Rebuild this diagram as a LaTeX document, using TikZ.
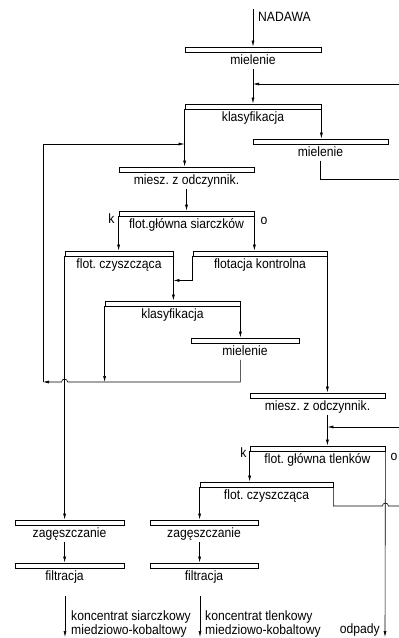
\documentclass[tikz,border=0pt]{standalone}
\usepackage{fontspec}
\setmainfont{Liberation Sans}[FakeStretch=0.9]
\usetikzlibrary{arrows.meta,positioning,calc}

\begin{document}
\begin{tikzpicture}[
    x=1pt, y=-1pt,
    every node/.style={font=\fontsize{13.5}{12.5}\selectfont},
    proc/.style={draw, line width=0.8pt, inner sep=0pt, minimum height=5pt, minimum width=#1},
    lbl/.style={inner sep=1pt, text height=10pt, text depth=3pt},
    side/.style={inner sep=0pt},
    flow/.style={-{Latex[length=6pt,width=3pt]}, line width=0.6pt},
    pipe/.style={line width=0.6pt}
]
\useasboundingbox (0,0) rectangle (399,638);

% units: bar + name below
\node[proc=136pt] (miel1) at (253,49.5) {};
\node[lbl, below=1pt of miel1] (miel1t) {mielenie};
\node[proc=136pt] (kl1) at (253,106.5) {};
\node[lbl, below=1pt of kl1] (kl1t) {klasyfikacja};
\node[proc=135pt] (miel2) at (320.5,141.5) {};
\node[lbl, below=1pt of miel2] (miel2t) {mielenie};
\node[proc=135pt] (miesz1) at (186.5,169.5) {};
\node[lbl, below=1pt of miesz1] (miesz1t) {miesz.\ z odczynnik.};
\node[proc=135pt] (flg1) at (186.5,213.5) {};
\node[lbl, below=1pt of flg1] (flg1t) {flot.główna siarczków};
\node[proc=108pt] (flc1) at (119,253.5) {};
\node[lbl, below=1pt of flc1] (flc1t) {flot.\ czyszcząca};
\node[proc=134pt] (flk) at (260,253.5) {};
\node[lbl, below=1pt of flk] (flkt) {flotacja kontrolna};
\node[proc=135pt] (kl2) at (172.5,303.5) {};
\node[lbl, below=1pt of kl2] (kl2t) {klasyfikacja};
\node[proc=108pt] (miel3) at (245,340.5) {};
\node[lbl, below=1pt of miel3] (miel3t) {mielenie};
\node[proc=135pt] (miesz2) at (317.5,395.5) {};
\node[lbl, below=1pt of miesz2] (miesz2t) {miesz.\ z odczynnik.};
\node[proc=135pt] (flg2) at (317.5,448.5) {};
\node[lbl, below=1pt of flg2] (flg2t) {flot.\ główna tlenków};
\node[proc=133pt] (flc2) at (266.5,484.5) {};
\node[lbl, below=1pt of flc2] (flc2t) {flot.\ czyszcząca};
\node[proc=109pt] (zag1) at (69.5,522.5) {};
\node[lbl, below=1pt of zag1] (zag1t) {zagęszczanie};
\node[proc=108pt] (zag2) at (204,522.5) {};
\node[lbl, below=1pt of zag2] (zag2t) {zagęszczanie};
\node[proc=109pt] (fil1) at (69.5,565.5) {};
\node[lbl, below=1pt of fil1, xshift=-5pt] (fil1t) {filtracja};
\node[proc=108pt] (fil2) at (204,565.5) {};
\node[lbl, below=1pt of fil2] (fil2t) {filtracja};

% k / o outlets
\node[side, anchor=base east] (k1) at ($(flg1.south west)+(-4,7)$) {k};
\node[side, anchor=base west] (o1) at ($(flg1.south east)+(6,8)$) {o};
\node[side, anchor=base east] (k2) at ($(flg2.south west)+(-3,6)$) {k};
\node[side, anchor=base west] (o2) at ($(flg2.south east)+(5,9)$) {o};

% free ends
\coordinate (feed) at (253,9);
\coordinate (rec1in) at (399,84);
\coordinate (rec1out) at (399,179);
\coordinate (rec2in) at (399,427);
\coordinate (rec2out) at (399,506);
\coordinate (loopL) at (43,382);
\coordinate (loopT) at (43,144);
\coordinate (flkbend) at ($(flk.south west)+(0,24)$);
\coordinate (kon1) at (65,596);
\coordinate (kon2) at (200,596);
\coordinate (out1) at (65,637);
\coordinate (out2) at (200,637);
\coordinate (out3) at (385,637);

\node[side, anchor=base west] (nadawa) at (258,21) {NADAWA};
\draw[flow] (feed) -- (miel1.north);
\draw[flow] (miel1t.south) -- (kl1.north);
\draw[flow] (rec1in) -- (rec1in -| miel1.south);

% first circuit
\draw[flow] (kl1.south east) -- (kl1.south east |- miel2.north);
\draw[pipe] (miel2t.south) |- (rec1out);
\draw[flow] (kl1.south west) -- (kl1.south west |- miesz1.north);
\draw[flow] (miesz1t.south) -- (flg1.north);
\draw[flow] (flg1.south west) -- (flg1.south west |- flc1.north);
\draw[flow] (flg1.south east) -- (flg1.south east |- flk.north);
\draw[flow] (flk.south west) -- (flkbend) -- (flkbend -| flc1.south east);
\draw[flow] (flc1.south east) -- (flc1.south east |- kl2.north);
\draw[flow] (kl2.south east) -- (kl2.south east |- miel3.north);
\draw[flow] (kl2.south west) -- (kl2.south west |- loopL);
\draw[flow] (miel3t.south -| kl2.south east) -- (kl2.south east |- loopL)
    -- ([xshift=3pt]flc1.south west |- loopL) arc[start angle=0, end angle=180, radius=3pt] -- (loopL);
\draw[flow] (loopL) -- (loopT) -- (loopT -| kl1.south west);

% second circuit
\draw[flow] (flk.south east) -- (flk.south east |- miesz2.north);
\draw[flow] (miesz2t.south -| flk.south east) -- (flk.south east |- flg2.north);
\draw[flow] (rec2in) -- (rec2in -| flk.south east);
\draw[flow] (flg2.south west) -- (flg2.south west |- flc2.north);
\draw[pipe] (flc2.south east) |- ([xshift=-3pt]flg2.south east |- rec2out)
    arc[start angle=180, end angle=0, radius=3pt] -- (rec2out);
\draw[flow] (flg2.south east) -- (out3);

% concentrates
\draw[flow] (flc1.south west) -- (flc1.south west |- zag1.north);
\draw[flow] (zag1t.south -| flc1.south west) -- (flc1.south west |- fil1.north);
\draw[flow] (flc2.south west) -- (flc2.south west |- zag2.north);
\draw[flow] (zag2t.south -| flc2.south west) -- (flc2.south west |- fil2.north);
\draw[flow] (kon1) -- (out1);
\draw[flow] (kon2) -- (out2);

\node[inner sep=1pt, anchor=north west, align=left] (kons) at (70,610) {koncentrat siarczkowy\\miedziowo-kobaltowy};
\node[inner sep=1pt, anchor=north west, align=left] (kont) at (204,610) {koncentrat tlenkowy\\miedziowo-kobaltowy};
\node[side, anchor=base east] (odpady) at (380,633.5) {odpady};
\end{tikzpicture}
\end{document}
